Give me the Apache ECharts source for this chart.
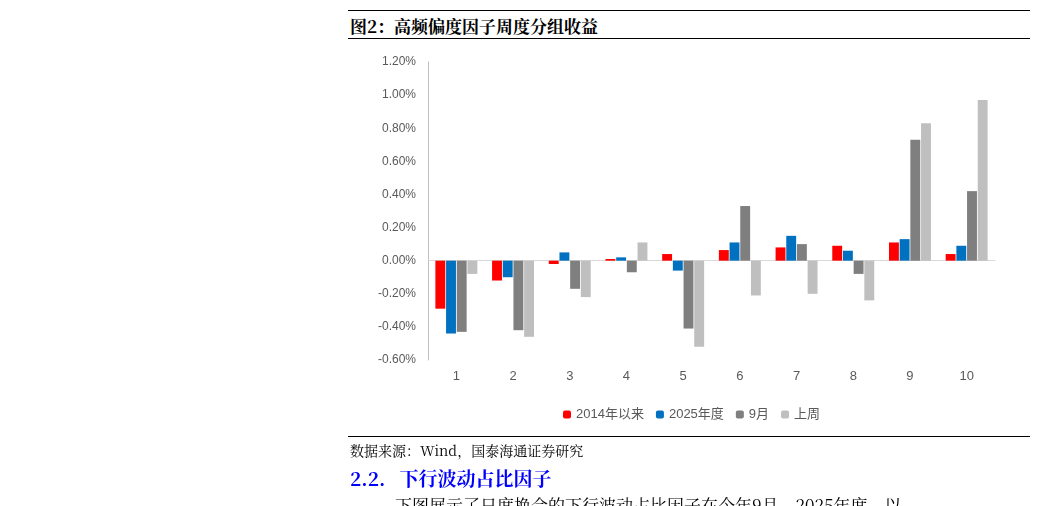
<!DOCTYPE html>
<html>
<head>
<meta charset="utf-8">
<script src="https://cdn.jsdelivr.net/npm/echarts@6/dist/echarts.min.js"></script>
<style>
  body { margin: 0; width: 1037px; height: 506px; overflow: hidden; background: #fff; position: relative; }
  .t { position: absolute; font-family: "Noto Serif CJK SC", "Noto Sans CJK SC", serif; white-space: nowrap; }
  .line { position: absolute; left: 348px; width: 682px; border-top: 1px solid #000; }
</style>
</head>
<body>
  <div class="line" style="top:10px"></div>
  <div class="t" style="left:350px; top:13px; font-size:17px; font-weight:bold;">图2：高频偏度因子周度分组收益</div>
  <div class="line" style="top:38px"></div>
  <div id="main" style="position:absolute; left:0; top:0; width:1037px; height:506px;"></div>
  <div class="line" style="top:436px"></div>
  <div class="t" style="left:350px; top:440px; font-size:14px;">数据来源：Wind，国泰海通证券研究</div>
  <div class="t" style="left:350px; top:464px; font-size:19px; font-weight:bold; color:#0000ff;">2.2.&nbsp;&nbsp;&nbsp;下行波动占比因子</div>
  <div class="t" style="left:395px; top:492px; font-size:17px;">下图展示了日度换合的下行波动占比因子在今年9月、2025年度，以</div>
<script>
const categories = ['1', '2', '3', '4', '5', '6', '7', '8', '9', '10'];
const since2014 = [-0.29, -0.12, -0.02, 0.01, 0.04, 0.064, 0.08, 0.09, 0.11, 0.04];
const year2025 = [-0.44, -0.10, 0.05, 0.02, -0.06, 0.11, 0.15, 0.06, 0.13, 0.09];
const sept = [-0.43, -0.42, -0.17, -0.07, -0.41, 0.33, 0.10, -0.08, 0.73, 0.42];
const lastWeek = [-0.08, -0.46, -0.22, 0.11, -0.52, -0.21, -0.20, -0.24, 0.83, 0.97];
const yTicks = { min: -0.6, max: 1.2, interval: 0.2 };

const chart = echarts.init(document.getElementById('main'));
const mk = (name, data, color) => ({
  name, type: 'bar', data, barGap: '8%', barCategoryGap: '26%',
  itemStyle: { color }
});
chart.setOption({
  animation: false,
  grid: { left: 428, right: 42, top: 62, bottom: 146 },
  legend: {
    top: 403, left: 558, itemWidth: 8, itemHeight: 8, itemGap: 12,
    textStyle: { fontSize: 13, color: '#595959', fontFamily: 'Arial, "Noto Sans CJK SC"' },
    data: ['2014年以来', '2025年度', '9月', '上周']
  },
  xAxis: {
    type: 'category', data: categories,
    axisLine: { onZero: true, lineStyle: { color: '#d9d9d9' } },
    axisTick: { show: false },
    axisLabel: { color: '#595959', fontSize: 13, margin: 10, fontFamily: 'Arial' }
  },
  yAxis: {
    type: 'value', min: yTicks.min, max: yTicks.max, interval: yTicks.interval,
    axisLine: { show: true, lineStyle: { color: '#bfbfbf' } },
    splitLine: { show: false },
    axisLabel: {
      color: '#595959', fontSize: 12, margin: 12, fontFamily: 'Arial',
      formatter: v => v.toFixed(2) + '%'
    }
  },
  series: [
    mk('2014年以来', since2014, '#ff0000'),
    mk('2025年度', year2025, '#0070c0'),
    mk('9月', sept, '#7f7f7f'),
    mk('上周', lastWeek, '#bfbfbf')
  ]
});
</script>
</body>
</html>
